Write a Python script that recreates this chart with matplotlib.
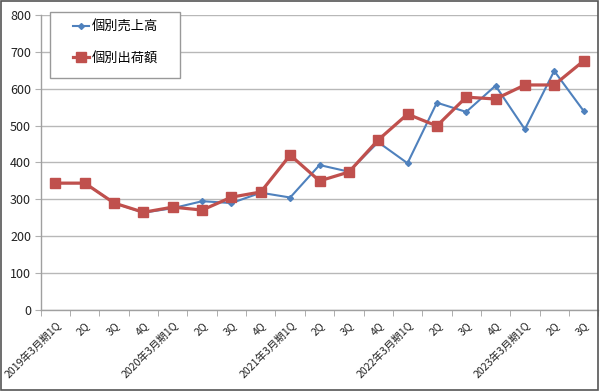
import matplotlib
matplotlib.use("Agg")
import matplotlib.pyplot as plt
from matplotlib.patches import Rectangle

plt.rcParams['font.family'] = ['Noto Sans CJK JP', 'DejaVu Sans']

categories = ["2019年3月期1Q", "2Q", "3Q", "4Q",
              "2020年3月期1Q", "2Q", "3Q", "4Q",
              "2021年3月期1Q", "2Q", "3Q", "4Q",
              "2022年3月期1Q", "2Q", "3Q", "4Q",
              "2023年3月期1Q", "2Q", "3Q"]
sales = [344, 344, 290, 264, 276, 295, 290, 318, 305, 393, 375, 455,
         398, 562, 537, 608, 490, 648, 540]
shipments = [344, 344, 290, 265, 279, 271, 306, 320, 420, 350, 374, 461,
             531, 499, 577, 572, 610, 610, 675]
yticks = [0, 100, 200, 300, 400, 500, 600, 700, 800]

fig = plt.figure(figsize=(6.0, 3.91), dpi=100)
ax = fig.add_axes([0.068, 0.207, 0.929, 0.755])

x = list(range(len(categories)))
ax.plot(x, sales, color='#4F81BD', linewidth=1.5, marker='D', markersize=3,
        label='個別売上高', zorder=3)
ax.plot(x, shipments, color='#C0504D', linewidth=2.3, marker='s', markersize=6.5,
        label='個別出荷額', zorder=4)

ax.set_xlim(-0.5, len(categories) - 0.5)
ax.set_ylim(0, 800)
ax.set_yticks(yticks)
ax.set_yticklabels([str(v) for v in yticks], fontsize=9, color='#222222')
ax.tick_params(axis='y', length=4, color='#b0b0b0', pad=3)
ax.yaxis.grid(True, color='#b8b8b8', linewidth=1)
ax.set_axisbelow(True)

ax.set_xticks(x)
ax.set_xticklabels(categories, rotation=45, ha='right', va='top',
                   rotation_mode='anchor', fontsize=7.6, color='#222222')
ax.tick_params(axis='x', which='major', length=0, pad=7)
ax.set_xticks([i - 0.5 for i in range(len(categories) + 1)], minor=True)
ax.tick_params(axis='x', which='minor', length=4, color='#a0a0a0', direction='out')

for s in ['top', 'right']:
    ax.spines[s].set_visible(False)
for s in ['left', 'bottom']:
    ax.spines[s].set_color('#a0a0a0')
    ax.spines[s].set_linewidth(1)

# legend box (frame) and entries
box = Rectangle((50 / 600, 1 - 78 / 391), 130 / 600, 66 / 391,
                transform=fig.transFigure, facecolor='white',
                edgecolor='#999999', linewidth=1, zorder=5, clip_on=False)
ax.add_patch(box)
leg = ax.legend(loc='upper left', bbox_to_anchor=(73 / 600, 1 - 21 / 391),
                bbox_transform=fig.transFigure, fontsize=9.5,
                frameon=False, handlelength=1.2, labelspacing=1.35,
                borderpad=0, handletextpad=0.25, borderaxespad=0)
leg.set_zorder(6)

fig.add_artist(Rectangle((0.001, 0.002), 0.996, 0.996, transform=fig.transFigure,
                         fill=False, edgecolor='#555555', linewidth=1.2))

fig.savefig('out.png', dpi=100)
